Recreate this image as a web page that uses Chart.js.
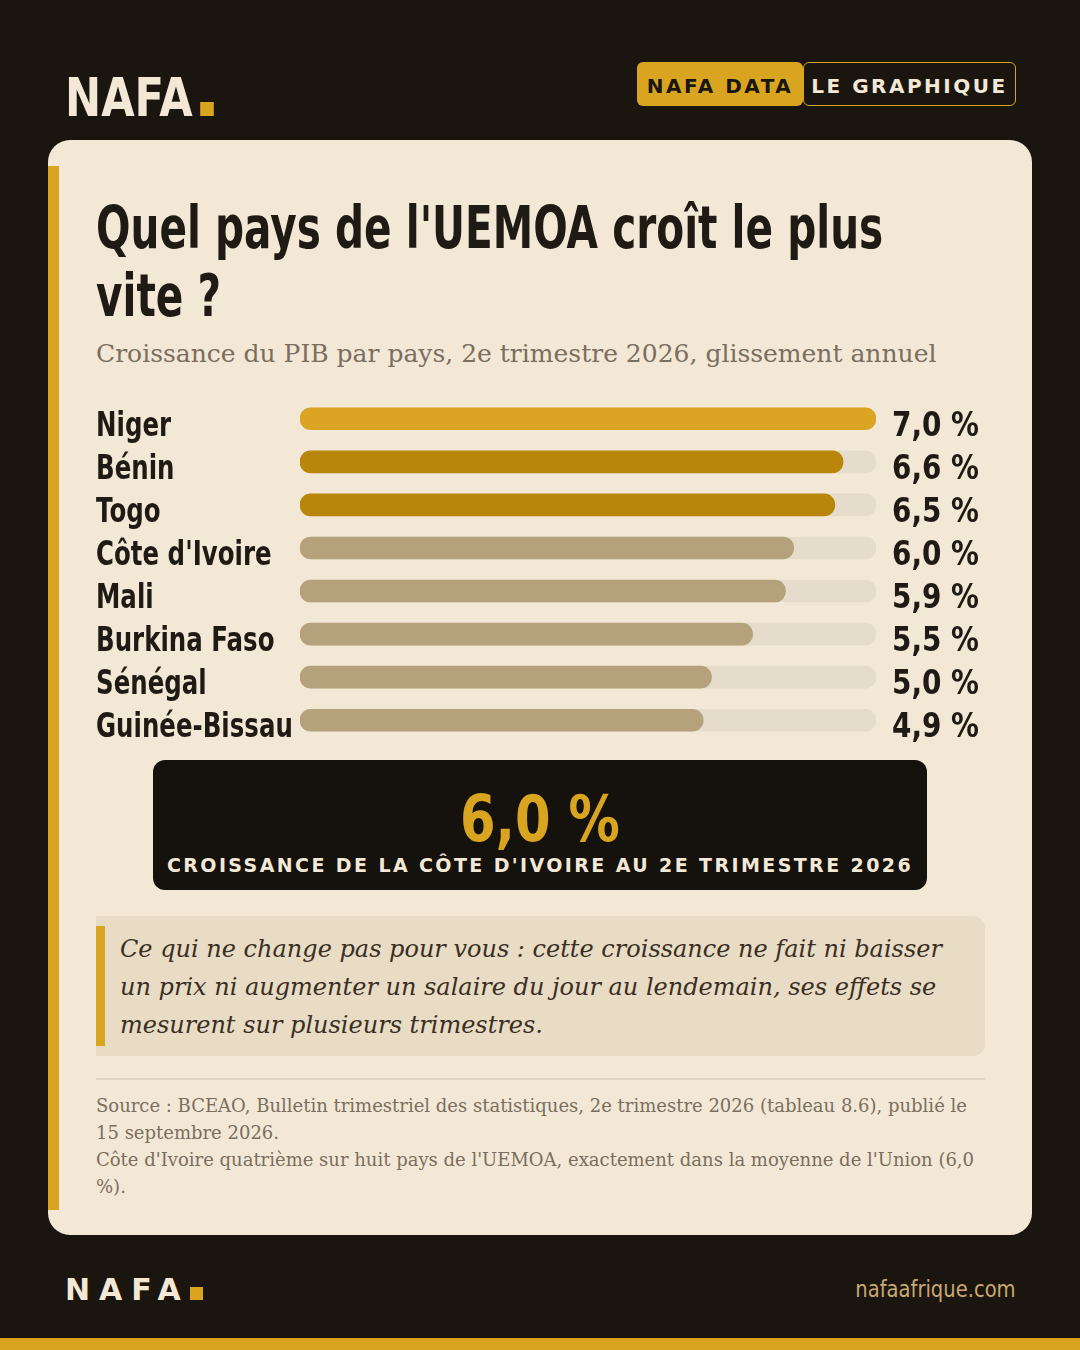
<!DOCTYPE html>
<html>
<head>
<meta charset="utf-8">
<script src="https://cdn.jsdelivr.net/npm/chart.js@4"></script>
<style>
  body { margin:0; width:1080px; height:1350px; background:#1a150f; position:relative; overflow:hidden;
         font-family:"DejaVu Serif", serif; }
  .cond { font-family:"DejaVu Sans", sans-serif; font-weight:bold; }
  .abs { position:absolute; }
  .card { left:48px; top:140px; width:984px; height:1095px; background:#f3e8d6; border-radius:22px; }
  .stripe { left:48px; top:166px; width:11px; height:1044px; background:#d9a521; }
  .sq { display:inline-block; background:#d9a521; }
  .squeeze { display:block; white-space:nowrap; transform:scaleX(0.70); transform-origin:left; }
</style>
</head>
<body>
<div class="abs cond" style="left:65px;top:66px;font-size:54px;color:#f3e8d6;"><span class="squeeze" style="transform:scaleX(0.8)">NAFA<span class="sq" style="width:17px;height:14px;margin-left:10px;"></span></span></div>
<div class="abs cond" style="left:637px;top:62px;width:166px;height:44px;background:#d9a521;border-radius:6px;color:#1a150f;font-size:20px;letter-spacing:2.5px;line-height:48px;text-align:center;white-space:nowrap;">NAFA DATA</div>
<div class="abs cond" style="left:803px;top:62px;width:211px;height:42px;border:1.5px solid #d9a521;border-radius:6px;color:#f3e8d6;font-size:20px;letter-spacing:2.5px;line-height:46px;text-align:center;white-space:nowrap;">LE GRAPHIQUE</div>

<div class="abs card"></div>
<div class="abs stripe"></div>

<div class="abs cond" style="left:96px;top:194px;font-size:58px;line-height:68px;color:#1f1a14;">
  <span class="squeeze">Quel pays de l'UEMOA croît le plus</span><span class="squeeze">vite ?</span>
</div>
<div class="abs" style="left:96px;top:339px;font-size:25px;color:#7a6e60;white-space:nowrap;">Croissance du PIB par pays, 2e trimestre 2026, glissement annuel</div>

<div class="abs" style="left:96px;top:378px;width:900px;height:383px;"><canvas id="c"></canvas></div>

<div class="abs" style="left:153px;top:760px;width:774px;height:130px;background:#15110c;border-radius:12px;text-align:center;">
  <div class="cond" style="font-size:64px;color:#d9a521;line-height:66px;margin-top:26px;"><span style="display:inline-block;transform:scaleX(0.8)">6,0 %</span></div>
  <div class="cond" style="font-size:19px;color:#f3e8d6;letter-spacing:2.4px;margin-top:2px;white-space:nowrap;">CROISSANCE DE LA CÔTE D'IVOIRE AU 2E TRIMESTRE 2026</div>
</div>

<div class="abs" style="left:96px;top:916px;width:889px;height:140px;background:#e8dcc4;border-radius:0 12px 12px 0;">
  <div class="abs" style="left:0;top:10px;width:9px;height:120px;background:#d9a521;"></div>
  <div class="abs" style="left:24px;top:14px;width:860px;font-size:24px;font-style:italic;line-height:38px;color:#3a2f25;">Ce qui ne change pas pour vous : cette croissance ne fait ni baisser un prix ni augmenter un salaire du jour au lendemain, ses effets se mesurent sur plusieurs trimestres.</div>
</div>

<div class="abs" style="left:96px;top:1078px;width:889px;height:2px;background:#e2d6c2;"></div>
<div class="abs" style="left:96px;top:1092px;width:890px;font-size:18px;line-height:27px;color:#7a6e60;">Source : BCEAO, Bulletin trimestriel des statistiques, 2e trimestre 2026 (tableau 8.6), publié le 15 septembre 2026.<br>Côte d'Ivoire quatrième sur huit pays de l'UEMOA, exactement dans la moyenne de l'Union (6,0 %).</div>

<div class="abs cond" style="left:65px;top:1272px;font-size:30px;color:#f3e8d6;letter-spacing:9px;">NAFA<span class="sq" style="width:13px;height:13px;margin-left:0px;"></span></div>
<div class="abs cond" style="right:64px;top:1276px;font-size:23px;color:#c9a96e;font-weight:normal;"><span class="squeeze" style="transform:scaleX(0.85);transform-origin:right">nafaafrique.com</span></div>
<div class="abs" style="left:0;top:1338px;width:1080px;height:12px;background:#d9a521;"></div>

<script>
const countries = ["Niger","Bénin","Togo","Côte d'Ivoire","Mali","Burkina Faso","Sénégal","Guinée-Bissau"];
const growth = [7.0, 6.6, 6.5, 6.0, 5.9, 5.5, 5.0, 4.9];
const barColors = ["#dba523","#b8860b","#b8860b","#b5a27c","#b5a27c","#b5a27c","#b5a27c","#b5a27c"];
const scaleMax = 7;

// condensed-looking labels: draw with a horizontal squeeze
function squeezedText(ctx, text, x, y, sx) {
  ctx.save();
  ctx.translate(x, y);
  ctx.scale(sx, 1);
  ctx.fillText(text, 0, 0);
  ctx.restore();
}

const rowLabels = {
  id: "rowLabels",
  afterDatasetsDraw(chart) {
    const ctx = chart.ctx;
    const yScale = chart.scales.y;
    ctx.save();
    ctx.font = "bold 34px 'DejaVu Sans', sans-serif";
    ctx.fillStyle = "#1f1a14";
    ctx.textBaseline = "middle";
    countries.forEach((name, i) => {
      const y = yScale.getPixelForValue(i) + 8;
      squeezedText(ctx, name, 0, y, 0.72);
      squeezedText(ctx, growth[i].toFixed(1).replace(".", ",") + " %", chart.chartArea.right + 16, y, 0.82);
    });
    ctx.restore();
  }
};

new Chart(document.getElementById("c"), {
  type: "bar",
  data: {
    labels: countries,
    datasets: [
      { data: growth.map(() => scaleMax), backgroundColor: "#e6dccb", borderRadius: 11, borderSkipped: false, barThickness: 22, grouped: false, order: 2 },
      { data: growth, backgroundColor: barColors, borderRadius: 11, borderSkipped: false, barThickness: 22, grouped: false, order: 1 }
    ]
  },
  options: {
    indexAxis: "y",
    responsive: true,
    maintainAspectRatio: false,
    animation: false,
    layout: { padding: { right: 120, top: 0, bottom: 0 } },
    plugins: { legend: { display: false }, tooltip: { enabled: false } },
    scales: {
      x: { min: 0, max: scaleMax, display: false },
      y: {
        grid: { display: false }, border: { display: false },
        afterFit(s) { s.width = 204; },
        ticks: {
          color: "rgba(0,0,0,0)",
          font: { family: "'DejaVu Sans', sans-serif", weight: "bold", size: 27 }
        }
      }
    }
  },
  plugins: [rowLabels]
});
</script>
</body>
</html>
